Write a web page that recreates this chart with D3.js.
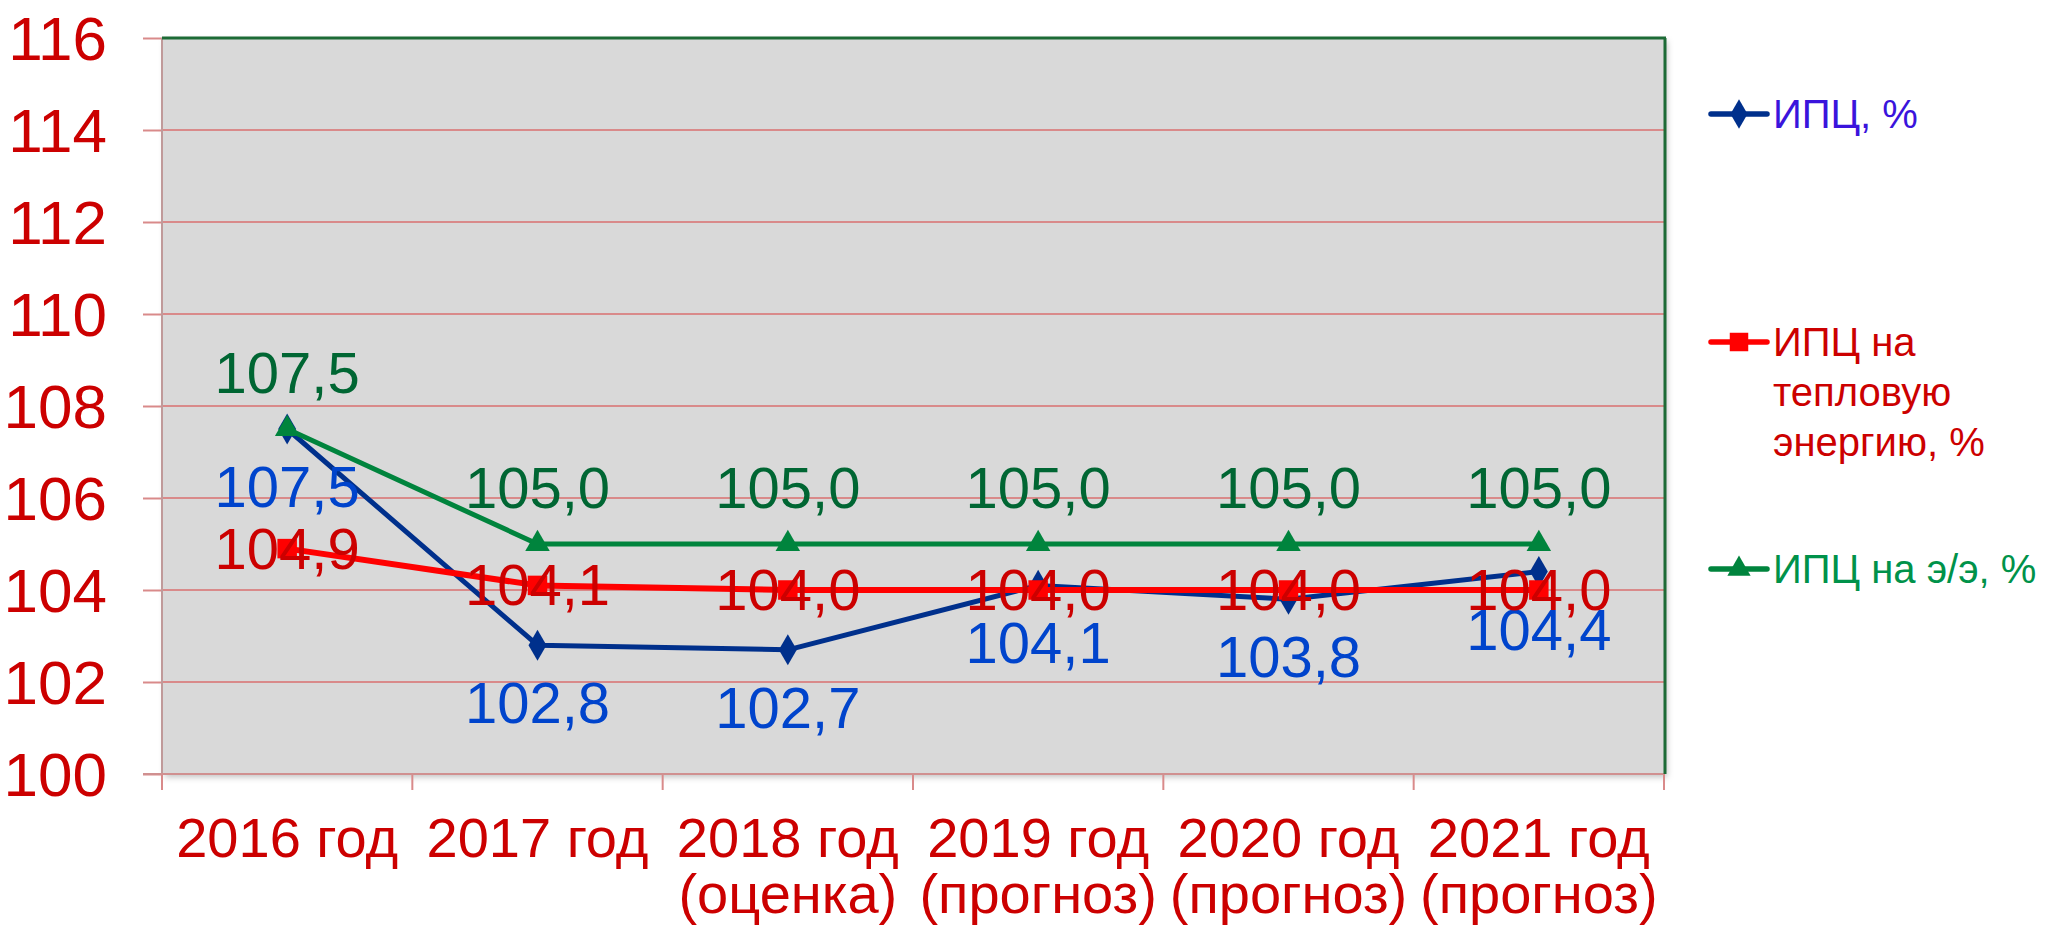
<!DOCTYPE html>
<html>
<head>
<meta charset="utf-8">
<script src="https://cdn.jsdelivr.net/npm/d3@7"></script>
<style>
  body { margin: 0; background: #fff; }
  svg { display: block; font-family: "Liberation Sans", Arial, sans-serif; }
</style>
</head>
<body>
<svg width="2050" height="929"></svg>
<script>
// chart data
const categories = ["2016 год", "2017 год", "2018 год", "2019 год", "2020 год", "2021 год"];
const subLabels = ["", "", "(оценка)", "(прогноз)", "(прогноз)", "(прогноз)"];
const cpi = [107.5, 102.8, 102.7, 104.1, 103.8, 104.4];
const cpiHeat = [104.9, 104.1, 104.0, 104.0, 104.0, 104.0];
const cpiPower = [107.5, 105.0, 105.0, 105.0, 105.0, 105.0];
const yTicks = [100, 102, 104, 106, 108, 110, 112, 114, 116];
const seriesNames = [["ИПЦ, %"], ["ИПЦ на", "тепловую", "энергию, %"], ["ИПЦ на э/э, %"]];

const plotL = 162, plotR = 1664, plotT = 38, plotB = 774;
const svg = d3.select("svg");

const x = d3.scaleBand().domain(categories).range([plotL, plotR]);
const y = d3.scaleLinear().domain([100, 116]).range([plotB, plotT]);
const cx = c => x(c) + x.bandwidth() / 2;

const defs = svg.append("defs");
const shadow = defs.append("filter").attr("id", "sh").attr("x", "-5%").attr("y", "-5%").attr("width", "110%").attr("height", "110%");
shadow.append("feDropShadow").attr("dx", 3).attr("dy", 3).attr("stdDeviation", 3)
    .attr("flood-color", "#000").attr("flood-opacity", 0.25);

// plot background
svg.append("rect")
    .attr("x", plotL).attr("y", plotT)
    .attr("width", plotR - plotL).attr("height", plotB - plotT)
    .attr("fill", "#d9d9d9")
    .attr("filter", "url(#sh)");

// y axis
const yAxis = svg.append("g")
    .attr("transform", `translate(${plotL},0)`)
    .call(d3.axisLeft(y).tickValues(yTicks).tickSize(19).tickFormat(d => d));
yAxis.select(".domain").remove();
yAxis.selectAll("line").attr("stroke", "#d98a8a").attr("stroke-width", 2);
yAxis.selectAll("text")
    .attr("x", -55).attr("dy", "0.35em")
    .attr("fill", "#cc0000")
    .style("font-size", "62px")
    .style("font-family", "Liberation Sans, Arial, sans-serif");

// gridlines
svg.append("g").selectAll("line")
    .data(yTicks.filter(d => d > 100 && d < 116))
    .join("line")
    .attr("x1", plotL).attr("x2", plotR)
    .attr("y1", d => y(d)).attr("y2", d => y(d))
    .attr("stroke", "#d98a8a").attr("stroke-width", 2);

// x axis ticks at category boundaries
const bounds = categories.map(c => x(c)).concat([plotR]);
svg.append("g").selectAll("line")
    .data(bounds)
    .join("line")
    .attr("x1", d => d).attr("x2", d => d)
    .attr("y1", plotB).attr("y2", plotB + 16)
    .attr("stroke", "#d98a8a").attr("stroke-width", 2);

// axes lines and border
svg.append("line").attr("x1", plotL).attr("x2", plotL).attr("y1", plotT).attr("y2", plotB)
    .attr("stroke", "#c09a9a").attr("stroke-width", 2);
svg.append("line").attr("x1", plotL - 19).attr("x2", plotR).attr("y1", plotB).attr("y2", plotB)
    .attr("stroke", "#d09090").attr("stroke-width", 2);
svg.append("line").attr("x1", plotL).attr("x2", plotR + 2).attr("y1", plotT).attr("y2", plotT)
    .attr("stroke", "#1d6b36").attr("stroke-width", 3);
svg.append("line").attr("x1", plotR + 1).attr("x2", plotR + 1).attr("y1", plotT).attr("y2", plotB)
    .attr("stroke", "#1d6b36").attr("stroke-width", 3);

// x labels
const xl = svg.append("g").selectAll("text")
    .data(categories)
    .join("text")
    .attr("text-anchor", "middle")
    .attr("fill", "#cc0000")
    .style("font-size", "56px");
xl.append("tspan").attr("x", d => cx(d)).attr("y", 857).text(d => d);
xl.append("tspan").attr("x", d => cx(d)).attr("y", 913).text((d, i) => subLabels[i]);

// series
const series = [
    { values: cpi, line: "#00308c", label: "#0044cc", width: 5, marker: d3.symbolDiamond, msize: 280, dy: 78, legendText: "#3a14dc" },
    { values: cpiHeat, line: "#ff0000", label: "#cc0000", width: 6, marker: d3.symbolSquare, msize: 380, dy: 20, legendText: "#cc0000" },
    { values: cpiPower, line: "#00843d", label: "#006633", width: 5, marker: d3.symbolTriangle, msize: 260, dy: -36, legendText: "#00924a" }
];

const line = d3.line().x((d, i) => cx(categories[i])).y(d => y(d));

series.forEach(s => {
    svg.append("path")
        .attr("d", line(s.values))
        .attr("fill", "none")
        .attr("stroke", s.line)
        .attr("stroke-width", s.width)
        .attr("stroke-linejoin", "round");
    svg.append("g").selectAll("path")
        .data(s.values)
        .join("path")
        .attr("d", d3.symbol().type(s.marker).size(s.msize))
        .attr("transform", (d, i) => `translate(${cx(categories[i])},${y(d)})`)
        .attr("fill", s.line);
});

// data labels
series.forEach(s => {
    svg.append("g").selectAll("text")
        .data(s.values)
        .join("text")
        .attr("x", (d, i) => cx(categories[i]))
        .attr("y", d => y(d) + s.dy)
        .attr("text-anchor", "middle")
        .attr("fill", s.label)
        .style("font-size", "58px")
        .text(d => d3.format(".1f")(d).replace(".", ","));
});

// legend
const legendY = [114, 342, 569];
series.forEach((s, k) => {
    const g = svg.append("g");
    g.append("line")
        .attr("x1", 1711).attr("x2", 1767)
        .attr("y1", legendY[k]).attr("y2", legendY[k])
        .attr("stroke", s.line).attr("stroke-width", 5.5)
        .attr("stroke-linecap", "round");
    g.append("path")
        .attr("d", d3.symbol().type(s.marker).size(s.msize * 0.9))
        .attr("transform", `translate(1739,${legendY[k]})`)
        .attr("fill", s.line);
    const t = g.append("text")
        .attr("fill", s.legendText)
        .style("font-size", "40px");
    seriesNames[k].forEach((ln, j) => {
        t.append("tspan").attr("x", 1773).attr("y", legendY[k] + 14 + j * 50).text(ln);
    });
});
</script>
</body>
</html>
